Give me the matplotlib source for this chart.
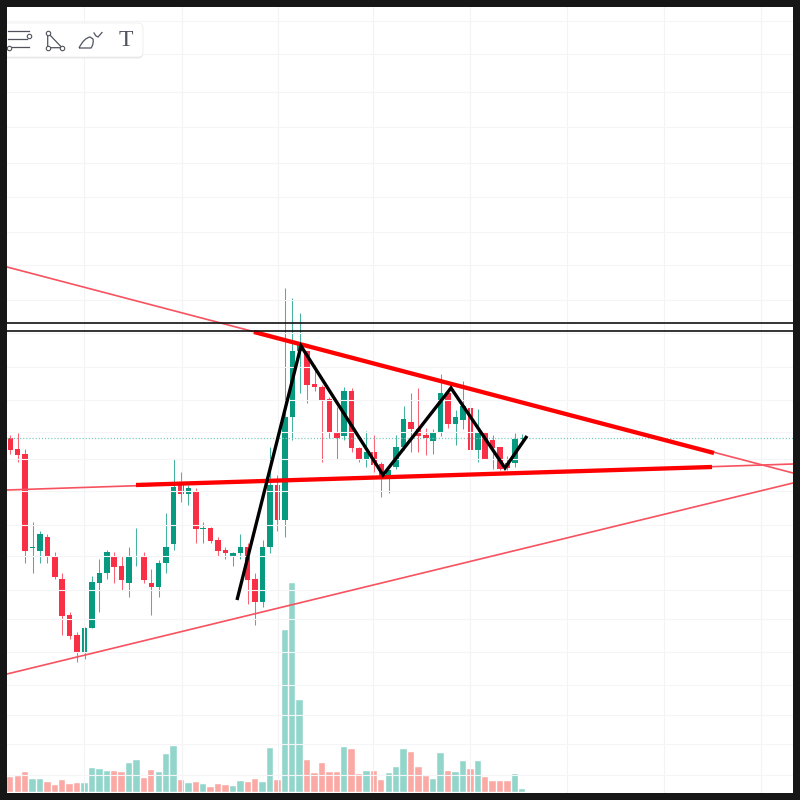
import matplotlib
matplotlib.use("Agg")
import matplotlib.pyplot as plt
from matplotlib.patches import FancyBboxPatch, Rectangle, PathPatch
from matplotlib.path import Path
from matplotlib.lines import Line2D

# candle values (price axis has no labels, so the unit is screen height)
wick_top = [435, 432.7, 449, 521.7, 531, 534, 552.3, 572.7, 611.7, 631.7,
            626.7, 576, 559, 550, 552.3, 556, 546.7, 528.3, 552.3, 569,
            560, 513.3, 459.3, 472.3, 485, 488.3, 521.7, 527.3, 537.3, 546.7,
            552, 534, 543.3, 572.7, 540, 447.3, 475, 288.3, 298.3, 313.3,
            350.7, 365, 385, 397.3, 406.7, 386.7, 388.3, 446.7, 430.7, 435,
            461.7, 470, 435, 406, 392.7, 388.3, 428.3, 429.3, 374, 388.3,
            410, 380.7, 399.3, 409.3, 431.7, 435, 447.3, 456, 433.3, 434]
body_top = [437.7, 449, 454, 546.7, 534, 537.3, 556, 579, 615, 635,
            628.3, 582.3, 572.7, 552.3, 556, 566, 556, 556, 556, 582.7,
            562.7, 546.7, 486.7, 485, 488.3, 491, 528.3, 528.3, 540, 550,
            552.7, 546.7, 546.7, 579, 546.7, 485, 485, 416.7, 350.7, 345,
            350.7, 384, 386.7, 399, 432.3, 391, 391, 447.7, 451.7, 451.7,
            464, 470, 447.3, 419.3, 421.7, 429.3, 435, 432.7, 392.7, 392.7,
            416.7, 406, 408.3, 432.7, 432.7, 440, 447.3, 463.3, 439.3, 437.7]
body_bot = [450, 455, 550.7, 547.7, 550.7, 556.7, 576.7, 616, 636, 651.7,
            651.7, 628.3, 583.3, 573.3, 566.7, 580, 583.3, 556.7, 580, 587.3,
            587.3, 563.3, 544, 494, 494, 529, 529, 540.7, 550.7, 553.3,
            556.7, 553.3, 580, 601.7, 601.7, 547.3, 520, 520, 417.3, 351,
            385, 387.3, 400, 431.7, 438.3, 435.7, 448.3, 460, 460, 465,
            476, 476, 467.3, 447.3, 429.3, 435.7, 438.3, 440.7, 432.7, 424,
            424, 420, 450, 450, 459.3, 448.3, 469.3, 468.3, 462.7, 439.3]
wick_bot = [454, 461.7, 562.7, 572.7, 562.7, 562.7, 579, 635, 639.3, 661.7,
            659, 628.3, 611.7, 579, 582.7, 590, 596.7, 566, 582.7, 615,
            596.7, 572.7, 550, 501.7, 505, 543.3, 543.3, 543.3, 556, 559,
            566, 559, 604, 625, 607.3, 552.7, 530.7, 537.3, 440, 392.7,
            403.3, 390.7, 461.7, 438.3, 459.3, 440, 451.7, 461.7, 466.7, 471.7,
            496.7, 493.3, 469.3, 450, 451.7, 451.7, 455, 454, 436, 428.3,
            445, 429.3, 456.7, 461.7, 459.3, 469.3, 470, 470, 466.7, 441.7]
up_days = [3, 4, 10, 11, 12, 13, 16, 17, 20, 21, 22, 24, 26, 30, 31, 34, 35, 37, 38, 39,
           45, 48, 51, 52, 53, 57, 58, 60, 61, 63, 68, 69]
volume = [14.7, 16, 19.7, 12.7, 12.7, 10.3, 7, 12, 8, 8.7,
          8.7, 23.7, 22.7, 21.3, 21.3, 19.7, 28.7, 32, 13.7, 22,
          20.3, 38, 46, 12, 8.7, 9.7, 8, 4.7, 8, 7,
          6, 11, 10.3, 12.7, 10.3, 43.7, 12, 162, 209, 92,
          32, 18.7, 28.7, 19.7, 19.7, 45.3, 42.7, 18, 21, 21,
          12, 18.7, 24.7, 42.7, 40.3, 25.3, 16, 12.7, 39.3, 21,
          19.7, 31, 22.7, 31, 14.7, 11, 11, 11, 17.7, 2.7]

# grid positions
grid_x = [84, 181.5, 278, 373, 470, 567, 664, 761]
grid_y = [21, 54, 92, 127, 163, 197, 232, 265, 300, 333, 367, 400, 432, 459, 491, 525,
          556, 590, 619, 652, 685, 715, 744, 775]

# drawn trend lines
thin_lines = [([7, 793], [267, 473]), ([7, 793], [490, 464]), ([7, 793], [674, 483])]
thick_lines = [([254, 714], [332, 453]), ([136, 712], [485, 467])]
black_levels = [323.3, 330.7]
zigzag_x = [237, 301, 383, 451, 505, 527]
zigzag_y = [600, 346, 475, 388, 468, 436]
last_price = 437.7

GREEN = "#089981"
RED = "#f92f45"

fig = plt.figure(figsize=(8, 8), dpi=100, facecolor="white")

# candle axes: x in bar index
ax = fig.add_axes([0, 0, 1, 1])
ax.set_xlim(-10.3 / 7.42, (800 - 10.3) / 7.42)
ax.set_ylim(800, 0)
ax.axis("off")

# volume shares the x axis, zero sits on the bottom of the plot
ax_vol = ax.twinx()
ax_vol.set_ylim(-8, 792)
ax_vol.axis("off")

# overlay in screen pixels for the hand drawn lines and toolbar
over = fig.add_axes([0, 0, 1, 1])
over.set_xlim(0, 800)
over.set_ylim(800, 0)
over.axis("off")
over.patch.set_alpha(0)

for i in range(len(volume)):
    up = i in up_days
    col = GREEN if up else RED
    ax_vol.bar(i, volume[i], width=0.86, color="#92d6cb" if up else "#faa9a4",
               edgecolor="white", linewidth=0.3, zorder=2)
    ax.plot([i, i], [wick_top[i], wick_bot[i]], color=col, lw=0.75, alpha=0.75,
            zorder=3, solid_capstyle="butt")
    ax.bar(i, body_bot[i] - body_top[i], bottom=body_top[i], width=0.74, color=col,
           linewidth=0, zorder=4)

for gx in grid_x:
    over.plot([gx, gx], [6, 793], color="#f3f3f5", lw=0.8, zorder=1)
for gy in grid_y:
    over.plot([7, 793], [gy, gy], color="#f5f5f7", lw=0.8, zorder=1)
# grid has to sit under the bars
over.set_zorder(3)
ax.set_zorder(1)
ax_vol.set_zorder(2)

over.plot([7, 793], [last_price, last_price], color="#7fccbf", lw=0.9, ls=(0, (1, 1.5)), zorder=3)

for lx, ly in thin_lines:
    over.plot(lx, ly, color="#f7525f", lw=1.2, zorder=5)
for lx, ly in thick_lines:
    over.plot(lx, ly, color="#ff0000", lw=3.1, zorder=6, solid_capstyle="butt")
for lv in black_levels:
    over.plot([7, 793], [lv, lv], color="#111111", lw=1.2, zorder=6)
over.plot(zigzag_x, zigzag_y, color="black", lw=2.4, zorder=7,
          solid_joinstyle="miter", solid_capstyle="butt")

# toolbar
over.add_patch(FancyBboxPatch((2, 25.5), 141, 33, boxstyle="round,pad=0,rounding_size=5",
                              fc="#d4d4d8", ec="none", alpha=0.55, zorder=8))
over.add_patch(FancyBboxPatch((2, 23), 141, 34, boxstyle="round,pad=0,rounding_size=5",
                              fc="white", ec="#eeeeef", lw=0.6, zorder=9))
ICON = "#50535e"
for yy, x0, x1 in [(30.7, 8, 29), (39, 8, 27), (47.3, 11, 29)]:
    over.plot([x0, x1], [yy, yy], color=ICON, lw=0.9, zorder=10)
for cx, cy in [(29, 36), (9, 47.5), (47.7, 32.7), (47.7, 47.7), (62, 47.7)]:
    over.plot(cx, cy, "o", ms=3.2, mfc="white", mec=ICON, mew=0.8, zorder=11)
over.plot([47.7, 47.7, 62, 47.7], [32.7, 47.7, 47.7, 32.7], color=ICON, lw=0.9, zorder=10)
brush = Path([(79, 48), (84, 38), (90, 37), (93, 39), (94, 44), (91, 48), (79, 48)],
             [Path.MOVETO, Path.CURVE3, Path.CURVE3, Path.LINETO, Path.CURVE3, Path.CURVE3, Path.LINETO])
over.add_patch(PathPatch(brush, fc="white", ec=ICON, lw=0.9, zorder=10))
over.plot([94, 96, 98, 102], [33, 36, 37, 32.5], color=ICON, lw=0.9, zorder=10)
over.text(126, 40, "T", family="Liberation Serif", fontsize=17, color=ICON,
          ha="center", va="center", zorder=10)

# dark frame round the screenshot
for rx, ry, rw, rh in [(0, 0, 800, 6.5), (0, 0, 7, 800), (793, 0, 7, 800), (0, 793, 800, 7)]:
    over.add_patch(Rectangle((rx, ry), rw, rh, fc="#161616", ec="none", zorder=12))

fig.savefig("out.png", dpi=100)
